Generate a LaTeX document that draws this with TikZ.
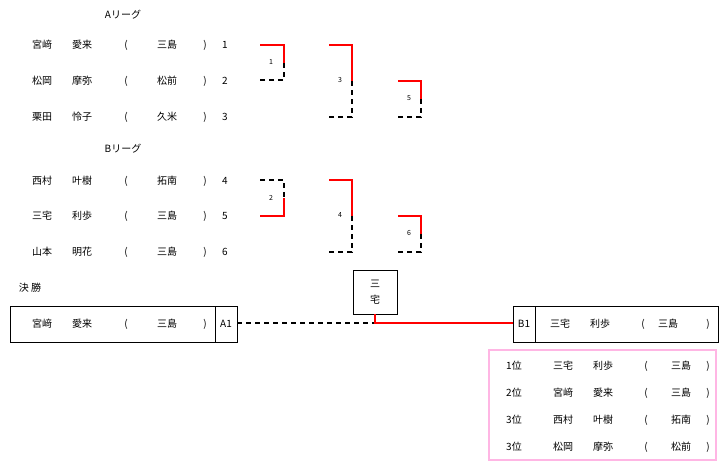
\documentclass[tikz,border=0pt]{standalone}
\usepackage{fontspec}
\setmainfont{Noto Sans CJK JP}
\begin{document}
\begin{tikzpicture}[x=1pt,y=-1pt,
 t/.style={font=\fontsize{10}{12}\selectfont,inner sep=0pt},
 sm/.style={font=\fontsize{7}{8}\selectfont,inner sep=0pt},
 win/.style={red,line width=2pt},
 lose/.style={black,line width=1.3pt,dash pattern=on 5pt off 4pt}]
\useasboundingbox (0,0) rectangle (726,469);
\node[t] (ha) at (123,15) {Aリーグ};
\node[t] (hb) at (123,149) {Bリーグ};
\foreach \y/\a/\b/\c/\n in {45/宮﨑/愛来/三島/1,81/松岡/摩弥/松前/2,117/栗田/怜子/久米/3,181/西村/叶樹/拓南/4,216/三宅/利歩/三島/5,252/山本/明花/三島/6}{
 \node[t] at (42,\y) {\a}; \node[t] at (82,\y) {\b}; \node[t] at (126,\y) {(};
 \node[t] at (167,\y) {\c}; \node[t] at (205,\y) {)}; \node[t] at (225,\y) {\n};}
% brackets
\draw[win] (260,45) -- (284,45) -- (284,63);
\draw[lose] (284,63) -- (284,80) -- (260,80);
\node[sm] at (271,62) {1};
\draw[win] (329,45) -- (352,45) -- (352,81);
\draw[lose] (352,81) -- (352,117) -- (329,117);
\node[sm] at (340,80) {3};
\draw[win] (398,81) -- (421,81) -- (421,99);
\draw[lose] (421,99) -- (421,117) -- (398,117);
\node[sm] at (409,98) {5};
\draw[lose] (260,180) -- (284,180) -- (284,198);
\draw[win] (284,198) -- (284,216) -- (260,216);
\node[sm] at (271,198) {2};
\draw[win] (329,180) -- (352,180) -- (352,216);
\draw[lose] (352,216) -- (352,252) -- (329,252);
\node[sm] at (340,215) {4};
\draw[win] (398,216) -- (421,216) -- (421,234);
\draw[lose] (421,234) -- (421,252) -- (398,252);
\node[sm] at (409,233) {6};
% final
\node[t] (ks) at (30,288) {決\ 勝};
\draw (10,306) rectangle (237,342); \draw (215,306) -- (215,342);
\foreach \x/\s in {42/宮﨑,82/愛来,126/(,167/三島,205/)} \node[t] at (\x,324) {\s};
\node[t] (a1) at (226,324) {A1};
\draw (513,306) rectangle (718,342); \draw (535,306) -- (535,342);
\node[t] (b1) at (524,324) {B1};
\foreach \x/\s in {560/三宅,600/利歩,643/(,668/三島,708/)} \node[t] at (\x,324) {\s};
\node[draw,minimum width=44pt,minimum height=44pt,t,align=center] (w) at (375,292) {三\\[4pt]宅};
\draw[lose,line width=1.2pt] (237,323) -- (375,323);
\draw[red,line width=1.6pt] (w.south) -- (375,323) -- (513,323);
% ranking
\draw[pink!70!magenta!60,line width=1.5pt] (489,350) rectangle (716,460);
\foreach \y/\r/\a/\b/\c in {366/1位/三宅/利歩/三島,393/2位/宮﨑/愛来/三島,420/3位/西村/叶樹/拓南,447/3位/松岡/摩弥/松前}{
 \node[t] at (514,\y) {\r}; \node[t] at (563,\y) {\a}; \node[t] at (603,\y) {\b};
 \node[t] at (646,\y) {(}; \node[t] at (681,\y) {\c}; \node[t] at (708,\y) {)};}
\end{tikzpicture}
\end{document}
